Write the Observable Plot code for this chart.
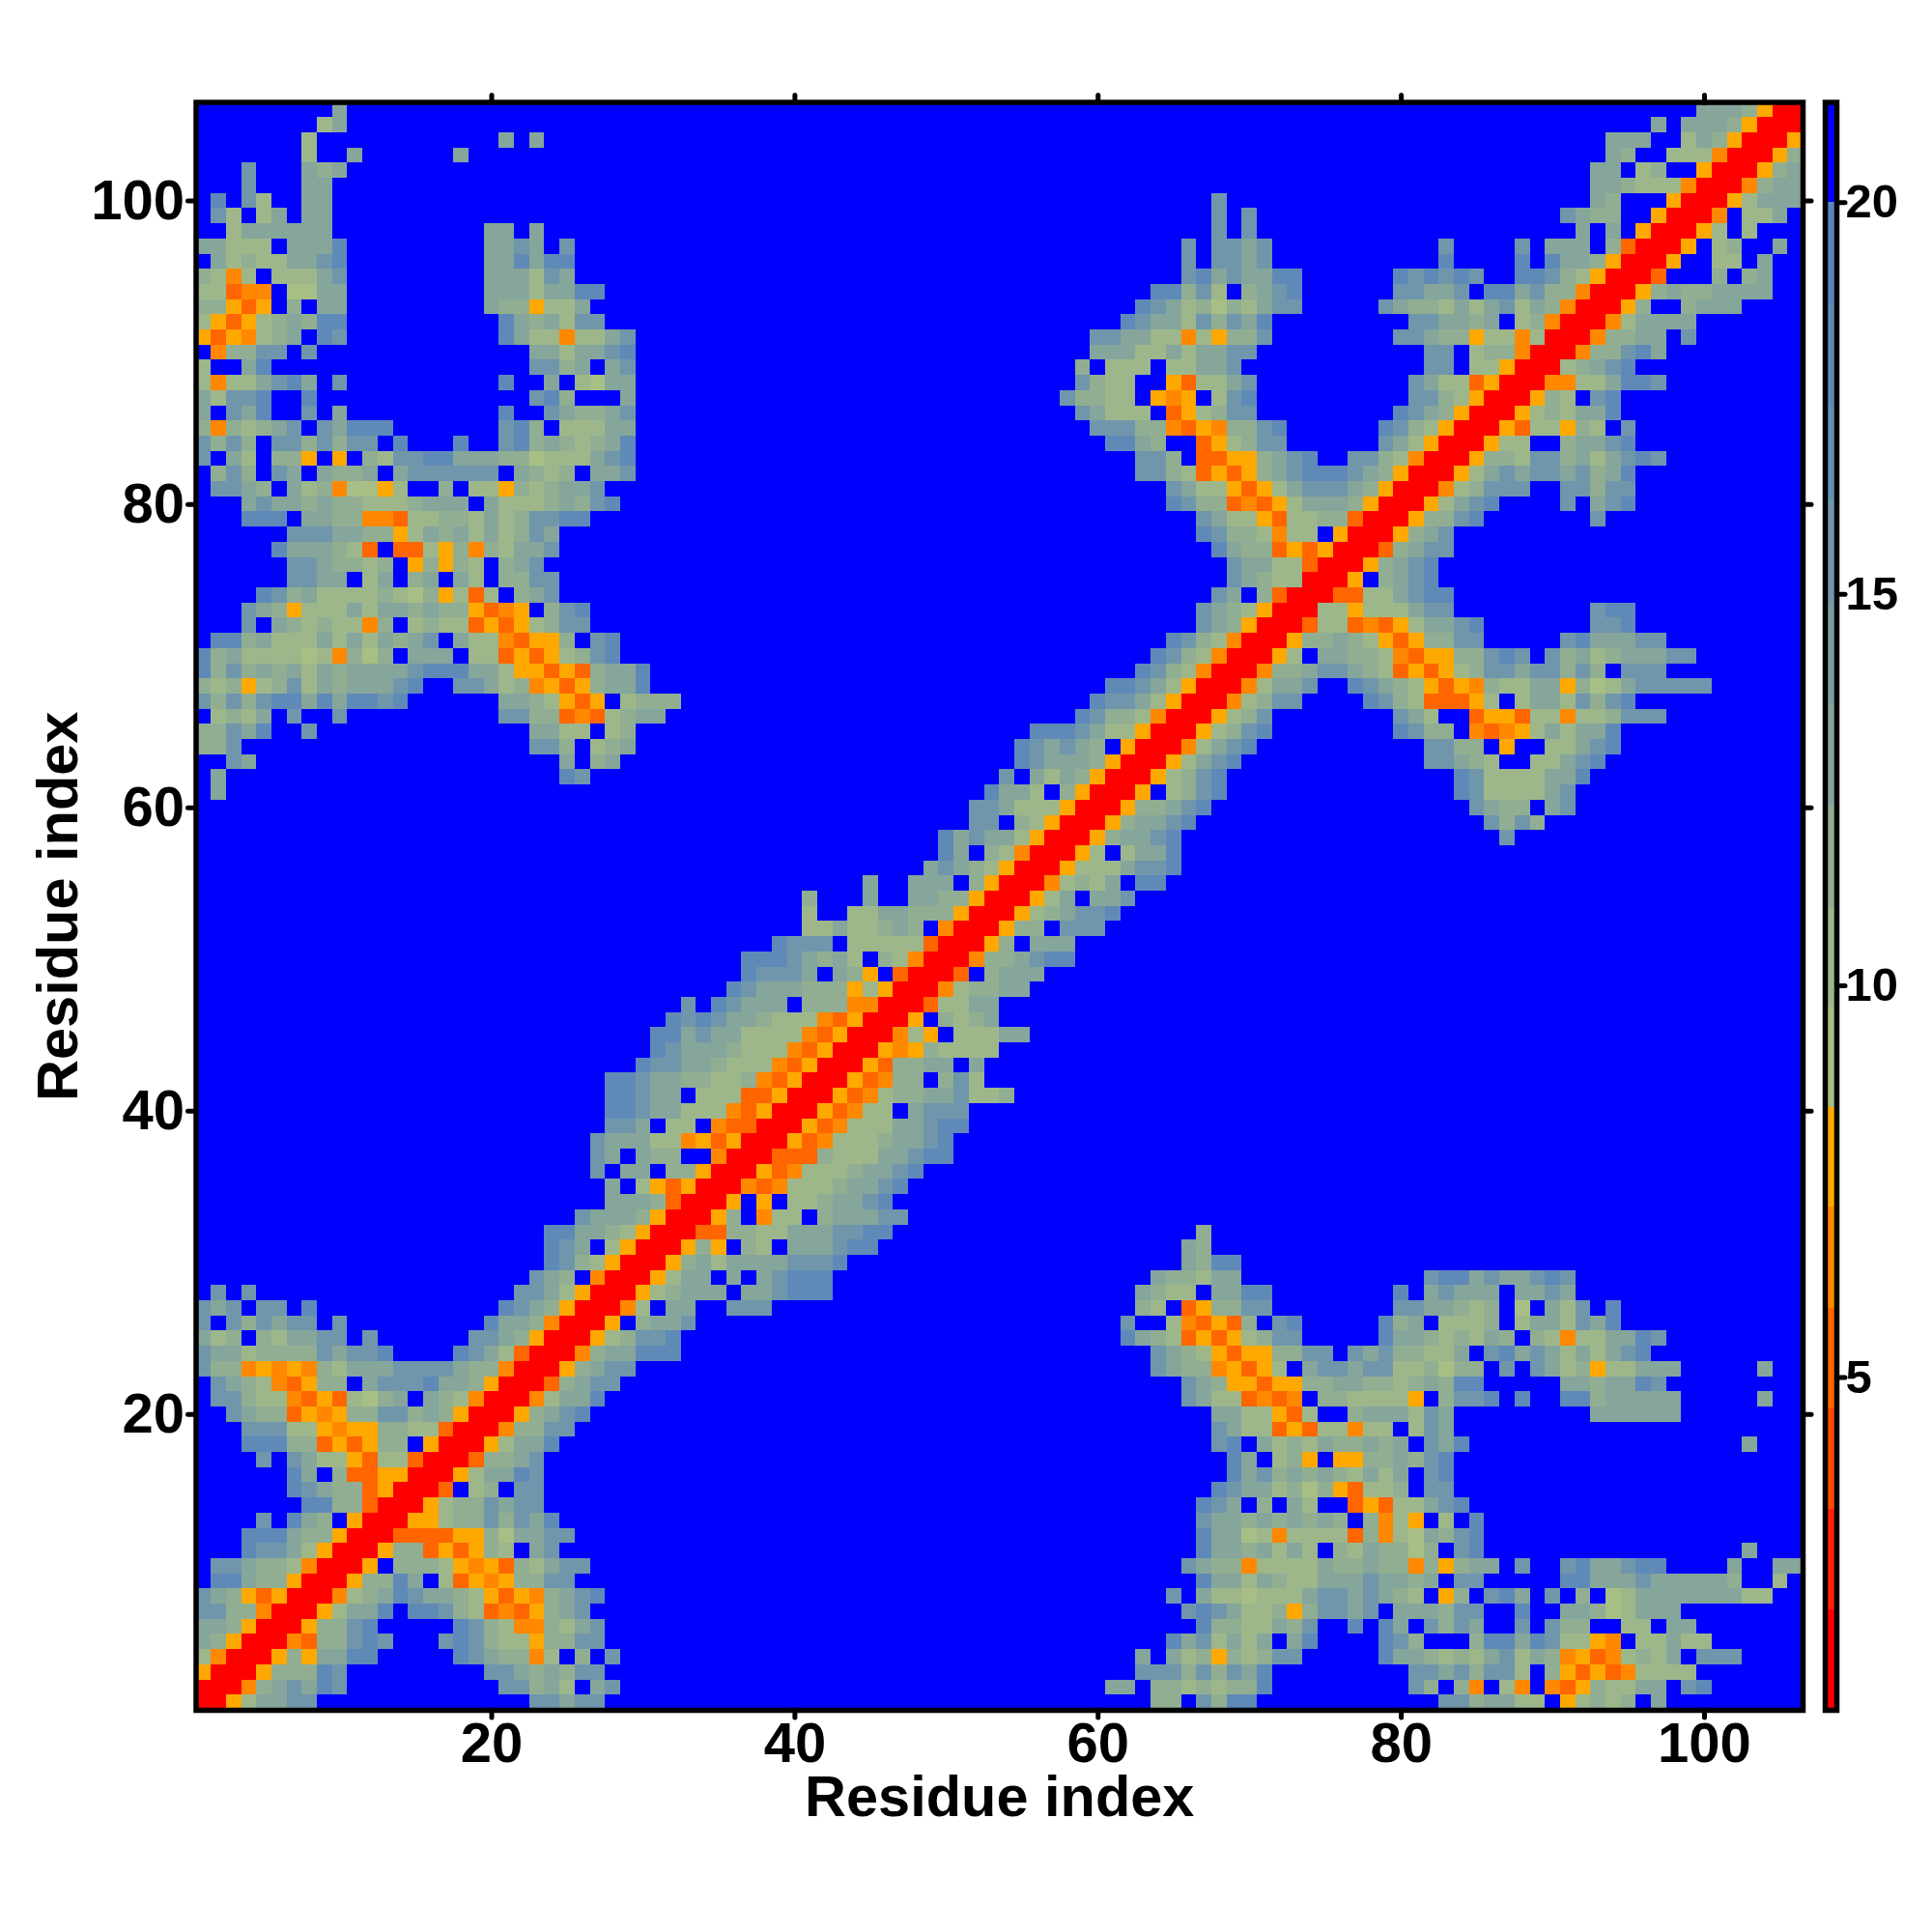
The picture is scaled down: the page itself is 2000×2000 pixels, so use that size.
<!DOCTYPE html>
<html><head><meta charset="utf-8">
<script src="https://cdn.jsdelivr.net/npm/d3@7"></script>
<script src="https://cdn.jsdelivr.net/npm/@observablehq/plot@0.6"></script>
<style>html,body{margin:0;background:#fff}#wrap{position:relative;width:2000px;height:2000px}#wrap svg{position:absolute;top:0;background:transparent;font-family:"Liberation Sans",sans-serif}</style>
</head><body><div id="wrap"></div>
<script>
const ticks=[20,40,60,80,100];
const barTicks=[5,10,15,20];
const axisName="Residue index";
const edges=[0.75,2.03,3.32,4.6,5.88,7.17,8.45,9.73,11.0,12.3,13.6,14.9,16.2,17.4,18.7,20.0,21.28];
const palette=["#ff0000","#ff2400","#ff4800","#ff6600","#ff8800","#ffa800","#a7bf84","#9db78b","#91ae92","#86a59b","#7a9da3","#7096ab","#678fb2","#5f8ab8","#5a86bd","#0000ff"];
const letters={r:0,o:3,m:4,y:5,a:6,b:7,c:8,d:9,e:11,f:13,".":15};
// rows[i] = residue i+1, segments "startColumn:levels" up to the diagonal
const rows=["1:r","1:rr","1:yrr","1:bmrr","1:dcyrr","1:ddcyrr","1:eeccmrr","1:edcyoyrr","2:ffdccyrr","2:eedccbmrr",
"4:feedbyrr","4:fffdccyrr","5:e.fdc.yrr","8:ffccorr","7:fedccoyrr","7:fd.cooyyrr","5:e.edbbyobborr","4:fffccoyoycc.yrr","4:eeebbymyyccbborr","3:edccoymycceecdcyrr",
"2:eecbbmoyobacd.dcbmrr","2:edcbmoycc.deeefddcyrr","1:eccmymymcbdddeeeedccmrr","1:eddbccccedeef....fedborr","1:dbc.cbddee.e......eedcyrr","1:e.ecedee.e.........fddcmrr","1:ede.ee.f 21:fedcyrr","2:e.e 22:eedbyrr","23:edc.mrr","24:fecbyrr",
"24:fed.byrr","24:ffddcbyrr","26:edddcyrr","28:dddcorr","28:d.byoyrr","27:e.dd.ccyrr","27:ed.dcc..mrr","27:edddbbmyoyrr","28:eed.bb.moorr","28:ffeddbbbmoyrr",
"28:ffedd.bbbooyrr","28:ffeddccbbcmoyrr","30:feeddcbbbmoyrr","31:fedddcbbbmoyrr","31:ffdeddbbbbmoyrr","32:fefeddcbbbmoyrr","33:e.feddd.cccmmrr","36:fedddcccybyrr","37:feeed.dcy.orr","37:fffedcdb.cbmrr",
"39:feee.bbbbborr","41:bbdbbcdc.mrr","41:b..bbddcccyrr","41:c...d..ddccyrr","45:d..ddd.cyrr","49:dedcbyrr","50:fd.cbmrr","50:fdeddbyrr","52:ee.cbyrr","52:eedbbbyrr",
"2:d 53:fddb.cyrr","2:d 25:fe 54:e.dbdcyrr","3:ed 25:d.cd 55:fedddcyrr","1:cce 23:eec.bcd 55:fededc.yrr","1:ccedf..e 23:ddbb.bc 56:fffedbbyrr","2:bcbd.e..e 21:eeccomobcdd 59:feccbmrr","1:ececeffdfdffef 21:ddcbyoy.bccc 60:feedbyrr","1:cbcybcebdcdddef..eedbcmyoycddf 61:ffedbyrr","1:fcecdcdbdcddddefffddbyyoyocddf 63:fecbmrr","1:fcdbbbbabmcac.ddd.bboyoybcef 64:fecbmrr",
"2:ffcdbbbdbdbdcde.dbbmoyyc.ef 65:fecbmrr","4:e.dcbcbbmc.bcbboyoybcee 67:edcyrr","4:edcybbbdbddcdccyomy.cef 67:edcbyrr","5:fecdbbbbcbacybob.cde 68:ed.corr","7:eedd.bd.cd.db.ccee 69:edcbbrr","7:eedccbc.ycycb.cde 69:eddbborr","6:fdddcbo.oobycmcbdde 68:fdccoyoyrr","7:eeeddccybdcdbdbced 67:feccbmbb.yrr","4:fff.ddccmmobbccbdbceeff 67:edbbyobbccorr","4:deddcdccbbbcddd.dbbbcdcef 65:feccomoybdddcyrr",
"2:eedc.dbcmaayb..c.bbycbcdde 65:edbbyoybdeeedcyrr","2:cec.ed.dccd.deeeeee.dcbc.dde 63:eecboyoycdefffedcyrr","1:e.db.ccy.y.cbeeffdddccabbbdef 63:eec.ooyycdef..eecbmrr","1:ecec.eececee.f...f..efcdcbcdf 61:ffdc..oybcee......edbyrr","1:cmcbcde.edfff 21:efc.bbbdd 60:eeeccmoymccef......fecbyrr","1:d.edf..e.d 21:f..edccde 59:edbbb.oybcee 80:fedcyrr","1:dbeef..f 23:efc...d 58:eccbb.ymy.bef 81:eecbyrr","1:bmbbdefd.e 21:f..d.badd 59:ecbb..yobbde 81:edbboyrr","1:b..df 23:eecd.de 59:c.bbb.bbdde 82:ee.bbyrr","2:mccee.e 23:ddbddef 60:dddbbdbddee 82:ee.bccmrr",
"1:yoymbcd.fe 21:fdbbmbbde 60:eeddbbmbycce 80:eedccybbmbrr","1:byoybcdcff 21:fdcdbee 62:feddbecedf 81:eeddcd.bcmrr","1:ccyoy.c.dd 20:dccybbd 63:fedbcacbdee 79:edccbdbdebdcmrr","1:bbomm.aadd 20:dddbddff 64:ffceb.cdef 80:eedde.ffdeccmrr","1:cbmb.bbbde 20:dddbed 66:efdeddff 80:fefefe..ffecbyrr","2:dbcbbddef 20:ddfdff 66:e.eede 83:f 88:f.fddcyrr","1:ddbbb.dddf 20:dded.e 66:e.eede 83:e 88:e.ddd.corr","3:bdddddd 20:dd.d 68:e.e 92:d.d.yrr","2:eb.bd.dd 68:e.e 91:edcc..yrr","2:f.eb..dd 68:e 93:dc...yrr",
"4:e...dd 93:ddcbbbmrr","4:e...dcd 93:dd.bc..yrr","8:b..d......d 94:dc..bbbmrr","8:b............d.d 94:ddd..bdcyrr","9:bd 97:d.dddcyrr","10:d 100:dddcyrr"];

const mid=i=>(edges[i]+edges[i+1])/2;
const n=rows.length;
const grid=d3.range(n).map(()=>new Array(n).fill(15));
rows.forEach((row,i)=>row.split(" ").forEach(seg=>{
  const [start,chars]=seg.split(":");
  [...chars].forEach((c,k)=>{const j=+start-1+k;grid[i][j]=letters[c];grid[j][i]=letters[c];});
}));
const cells=[];
grid.forEach((r,i)=>r.forEach((lv,j)=>cells.push({x:j+1,y:i+1,v:mid(lv)})));
const color={type:"threshold",domain:edges.slice(1,-1),range:palette};
const font={fontWeight:"bold",fontFamily:"Liberation Sans"};
const axStroke={strokeWidth:5,strokeLinecap:"round"};
const noText=()=>"";
const main=Plot.plot({
  width:2000,height:2000,marginLeft:202.5,marginRight:134,marginTop:105.5,marginBottom:230,
  x:{domain:[0.5,106.5]},y:{domain:[0.5,106.5]},color,
  marks:[
    Plot.rect(cells,{x1:d=>d.x-.5,x2:d=>d.x+.5,y1:d=>d.y-.5,y2:d=>d.y+.5,fill:"v",shapeRendering:"crispEdges"}),
    Plot.axisX({anchor:"bottom",ticks,tickSize:8,tickPadding:4,...axStroke,...font,fontSize:58,label:null}),
    Plot.axisX({anchor:"bottom",ticks,tickSize:0,tickFormat:noText,...font,fontSize:59.5,label:axisName,labelAnchor:"center",labelArrow:"none",labelOffset:109}),
    Plot.axisX({anchor:"top",ticks,tickSize:8,...axStroke,tickFormat:noText,label:null}),
    Plot.axisY({anchor:"left",ticks,tickSize:8,tickPadding:4,...axStroke,...font,fontSize:58,label:null}),
    Plot.axisY({anchor:"left",ticks,tickSize:0,tickFormat:noText,...font,fontSize:59.5,label:axisName,labelAnchor:"center",labelArrow:"none",labelOffset:165}),
    Plot.axisY({anchor:"right",ticks,tickSize:8,...axStroke,tickFormat:noText,label:null}),
    Plot.frame({stroke:"black",strokeWidth:5.5})
  ]
});
const bands=palette.map((p,i)=>({a:edges[i],b:edges[i+1],v:mid(i)}));
const bar=Plot.plot({
  width:120,height:2000,marginLeft:9,marginRight:99,marginTop:105.5,marginBottom:230,
  x:{domain:[0,1],axis:null},y:{domain:[edges[0],edges[16]]},color,
  marks:[
    Plot.rect(bands,{x1:0,x2:1,y1:"a",y2:"b",fill:"v",shapeRendering:"crispEdges"}),
    Plot.axisY({anchor:"right",ticks:barTicks,tickSize:8,tickPadding:1,...axStroke,fontSize:49,...font,label:null}),
    Plot.frame({stroke:"black",strokeWidth:5.5})
  ]
});
bar.style.left="1880px";
main.style.left="0";
const w=document.getElementById("wrap");w.append(main,bar);
</script></body></html>
